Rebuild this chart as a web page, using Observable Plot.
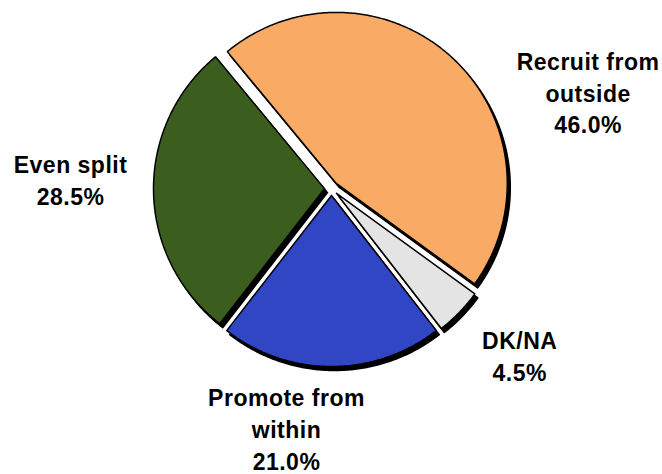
<!DOCTYPE html>
<html>
<head>
<meta charset="utf-8">
<script src="https://cdn.jsdelivr.net/npm/d3@7"></script>
<script src="https://cdn.jsdelivr.net/npm/@observablehq/plot@0.6"></script>
<style>
  html, body { margin: 0; padding: 0; background: #fff; }
  #chart { width: 662px; height: 474px; }
</style>
</head>
<body>
<div id="chart"></div>
<script>
// ---- data ----
const categories = ["Recruit from outside", "DK/NA", "Promote from within", "Even split"];
const shares = [46.0, 4.5, 21.0, 28.5];
const labelTexts = ["Recruit from\noutside", "DK/NA", "Promote from\nwithin", "Even split"];
const colors = ["#F9AA64", "#E4E4E4", "#3046C4", "#3B5E1F"];

// ---- layout / style ----
const W = 662, H = 474;
const R = 171;                     // pie radius in px
const startDeg = -39.6;            // first slice start (clockwise from 12 o'clock)
const explode = 7 / R;             // explosion distance (unit radius)
const labelRadius = 1.5;
const labelNudge = {               // pixel nudges from the radial label anchor
  "Recruit from outside": [81, 90],
  "DK/NA": [4, -12],
  "Promote from within": [-45, -17],
  "Even split": [-4.5, -13.5]
};

const pie = d3.pie().sort(null)
  .startAngle(startDeg * Math.PI / 180)
  .endAngle(startDeg * Math.PI / 180 + 2 * Math.PI);
const arcs = pie(shares);

const pts = [];
const labels = [];
arcs.forEach((a, i) => {
  const name = categories[i];
  const mid = (a.startAngle + a.endAngle) / 2;
  const ox = explode * Math.sin(mid), oy = explode * Math.cos(mid);
  pts.push({name, x: ox, y: oy});
  const n = Math.max(2, Math.ceil((a.endAngle - a.startAngle) / 0.01));
  for (let k = 0; k <= n; k++) {
    const t = a.startAngle + (a.endAngle - a.startAngle) * k / n;
    pts.push({name, x: ox + Math.sin(t), y: oy + Math.cos(t)});
  }
  pts.push({name, x: ox, y: oy});
  const [nx, ny] = labelNudge[name];
  labels.push({
    name,
    text: labelTexts[i] + "\n" + shares[i].toFixed(1) + "%",
    x: labelRadius * Math.sin(mid) + nx / R,
    y: labelRadius * Math.cos(mid) - ny / R
  });
});

const cx = 331, cy = 188;
const chart = Plot.plot({
  width: W,
  height: H,
  marginLeft: cx - R,
  marginRight: W - (cx + R),
  marginTop: cy - R,
  marginBottom: H - (cy + R),
  x: {domain: [-1, 1], axis: null},
  y: {domain: [-1, 1], axis: null},
  color: {domain: categories, range: colors},
  style: {fontFamily: "'Liberation Sans', Arial, sans-serif", background: "#fff", overflow: "visible"},
  marks: [
    Plot.line(pts, {x: "x", y: "y", z: "name", fill: "#000", stroke: "#000", strokeWidth: 1.5, dx: 3, dy: 4, curve: "linear"}),
    Plot.line(pts, {x: "x", y: "y", z: "name", fill: "name", stroke: "#000", strokeWidth: 1.5, strokeLinejoin: "miter", curve: "linear"}),
    Plot.text(labels, {x: "x", y: "y", text: "text", fontSize: 23, fontWeight: "bold", lineHeight: 1.38, fill: "#000", lineAnchor: "middle", textAnchor: "middle"})
  ]
});
chart.style.letterSpacing = "0.5px";
document.getElementById("chart").append(chart);
</script>
</body>
</html>
